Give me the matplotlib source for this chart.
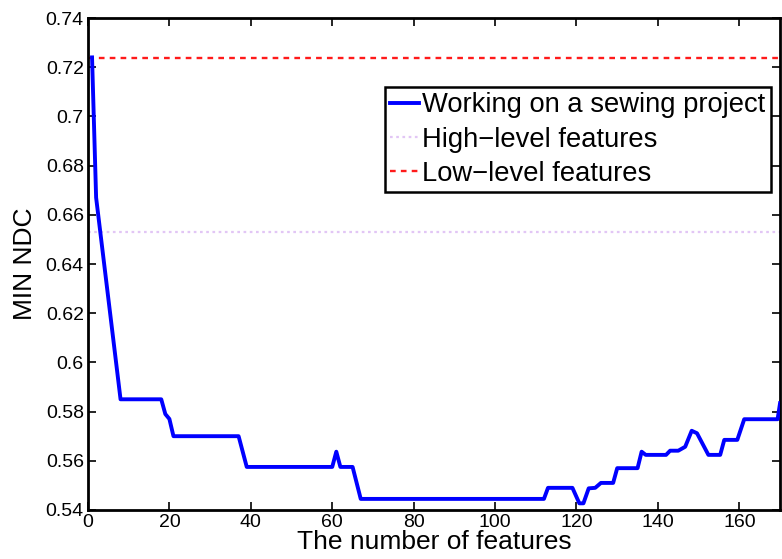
import matplotlib.pyplot as plt

# MIN NDC vs. number of selected features
n_features = [1, 2, 8, 18, 19, 20, 21, 37, 39, 60, 61, 62, 65, 67,
              112, 113, 119, 120.7, 121.7, 123, 124.6, 126, 129, 130,
              135, 136, 137, 142, 143, 145, 146.7, 148.3, 149.6, 152.4,
              155.3, 156.3, 159.5, 161.2, 169.4, 170]
min_ndc = [0.724, 0.667, 0.585, 0.585, 0.579, 0.577, 0.570, 0.570, 0.5575,
           0.5575, 0.5637, 0.5575, 0.5575, 0.5445, 0.5445, 0.549, 0.549,
           0.5427, 0.5427, 0.5488, 0.549, 0.551, 0.551, 0.557, 0.557,
           0.5637, 0.5624, 0.5624, 0.5641, 0.5641, 0.5657, 0.5722, 0.5712,
           0.5624, 0.5624, 0.5685, 0.5685, 0.5769, 0.5769, 0.5834]

high_level = 0.653
low_level = 0.7236

xticks = list(range(0, 161, 20))
yticks = [0.54, 0.56, 0.58, 0.6, 0.62, 0.64, 0.66, 0.68, 0.7, 0.72, 0.74]
ytick_labels = ['0.54', '0.56', '0.58', '0.6', '0.62', '0.64', '0.66',
                '0.68', '0.7', '0.72', '0.74']

plt.rcParams['font.family'] = ['Liberation Sans', 'DejaVu Sans']

fig = plt.figure(figsize=(7.82, 5.59), dpi=100)
ax = fig.add_axes([0.1125, 0.0877, 0.885, 0.880])

ax.plot(n_features, min_ndc, color='#0000ff', linewidth=2.8,
        label='Working on a sewing project', zorder=3)
ax.axhline(high_level, color='#e2c6f5', linestyle=(0, (1.2, 1.6)),
           linewidth=1.6, label='High\u2212level features')
ax.axhline(low_level, color='#ff1a1a', linestyle=(0, (2.4, 2.2)),
           linewidth=1.7, label='Low\u2212level features')

ax.set_xlim(0, 170)
ax.set_ylim(0.54, 0.74)
ax.set_xticks(xticks)
ax.set_yticks(yticks)
ax.set_yticklabels(ytick_labels)

ax.tick_params(direction='in', length=6, width=1.2, top=True, right=True,
               labelsize=14, pad=3)
for spine in ax.spines.values():
    spine.set_linewidth(2)

ax.set_xlabel('The number of features', fontsize=19, labelpad=-1)
ax.set_ylabel('MIN NDC', fontsize=19, labelpad=6)

leg = ax.legend(loc='upper right', bbox_to_anchor=(0.987, 0.86),
                borderaxespad=0, fontsize=19.7, handlelength=1.05,
                handletextpad=0.12, labelspacing=0.3, borderpad=0.2,
                fancybox=False, framealpha=1)
leg.get_frame().set_edgecolor('black')
leg.get_frame().set_linewidth(1.8)

fig.savefig('out.png', dpi=100)
